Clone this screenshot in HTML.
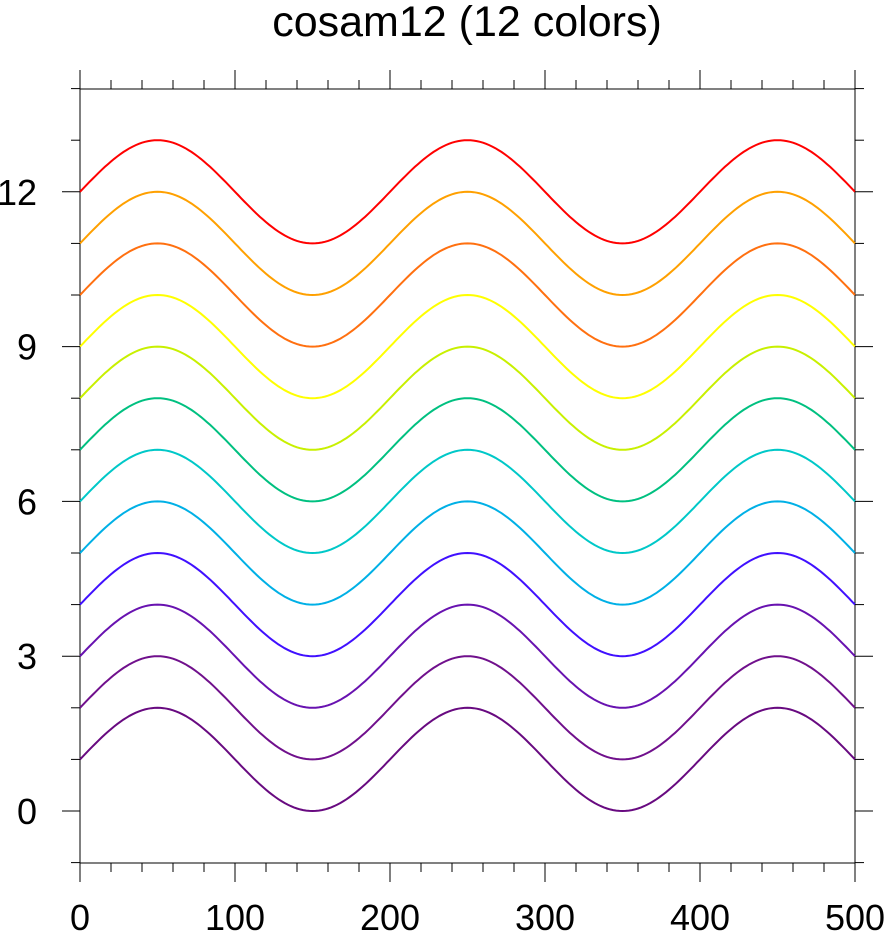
<!DOCTYPE html>
<html><head><style>body{margin:0;background:#fff}svg{display:block}</style></head>
<body>
<svg id="s" width="884" height="935" xmlns="http://www.w3.org/2000/svg" font-family="Liberation Sans, sans-serif">
<text x="467" y="36" font-size="43" text-anchor="middle">cosam12 (12 colors)</text>
<rect x="80" y="89" width="775" height="774" fill="none" stroke="#000" stroke-width="1"/>
</svg>
<script>
const s=document.getElementById('s'),NS='http://www.w3.org/2000/svg';
const X=v=>80+v*1.55, Y=v=>811-v*51.6;
function el(t,a,txt){const e=document.createElementNS(NS,t);for(const k in a)e.setAttribute(k,a[k]);if(txt!=null)e.textContent=txt;s.appendChild(e);}
const cols=[null,'#680a80','#70108c','#6812b0','#4010ff','#00b0e6','#00c8c8','#00c080','#c8f000','#ffff00','#ff7010','#ffa000','#ff0000'];
for(let k=1;k<=12;k++){let d='';for(let i=0;i<=500;i+=2){d+=(i?'L':'M')+X(i).toFixed(1)+' '+Y(k+Math.sin(2*Math.PI*i/200)).toFixed(1);}
el('path',{d,fill:'none',stroke:cols[k],'stroke-width':2});}
for(let v=0;v<=500;v+=20){const m=v%100==0,l=m?19:9,x=X(v);
el('line',{x1:x,x2:x,y1:863,y2:863+l,stroke:'#000'});el('line',{x1:x,x2:x,y1:89,y2:89-l,stroke:'#000'});
if(m)el('text',{x,y:930,'font-size':36,'text-anchor':'middle'},v);}
for(let v=-1;v<=14;v++){const m=v%3==0,l=m?18:9,y=Y(v);
el('line',{x1:80,x2:80-l,y1:y,y2:y,stroke:'#000'});el('line',{x1:855,x2:855+l,y1:y,y2:y,stroke:'#000'});
if(m&&v>=0&&v<=12)el('text',{x:37,y:y+13,'font-size':36,'text-anchor':'end'},v);}
</script>
</body></html>
